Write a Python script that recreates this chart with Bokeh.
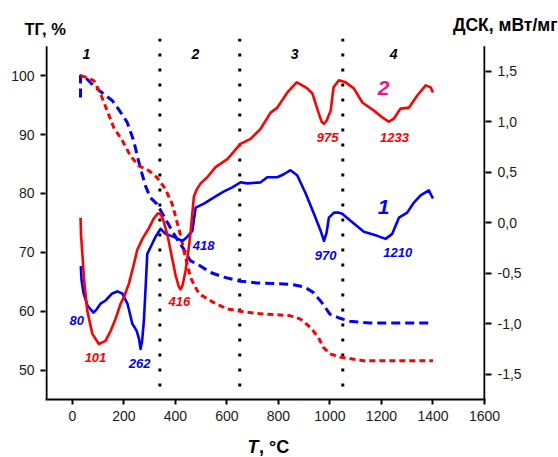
from bokeh.plotting import figure
from bokeh.models import Range1d, LinearAxis, FixedTicker, Label
from bokeh.layouts import column
from bokeh.core.properties import value
from bokeh.embed import file_html
from bokeh.resources import INLINE

# ---------------- data ----------------
# DSC curve 1 (blue, right axis, mW/mg)
dsc1_t = [33, 36, 44, 59, 82, 94, 110, 129, 155, 175, 194, 214, 233, 250, 259, 265, 271, 278, 285, 291,
          304, 323, 343, 362, 394, 427, 446, 466, 479, 511, 550, 589, 621, 653, 679, 731, 757, 796, 821,
          847, 873, 906, 938, 964, 977, 987, 996, 1016, 1035, 1048, 1080, 1132, 1158, 1184, 1216, 1242,
          1268, 1300, 1326, 1352, 1384, 1400]
dsc1_v = [-0.43, -0.57, -0.70, -0.82, -0.89, -0.86, -0.80, -0.77, -0.70, -0.68, -0.70, -0.80, -1.00, -1.07,
          -1.15, -1.25, -1.17, -0.97, -0.62, -0.31, -0.24, -0.14, -0.06, -0.11, -0.14, -0.18, -0.14, -0.08,
          0.15, 0.19, 0.25, 0.31, 0.35, 0.40, 0.39, 0.40, 0.45, 0.45, 0.48, 0.52, 0.47, 0.29, 0.09, -0.08,
          -0.18, -0.10, 0.05, 0.10, 0.10, 0.09, 0.02, -0.09, -0.11, -0.13, -0.16, -0.11, 0.05, 0.10, 0.20,
          0.27, 0.32, 0.24]

# DSC curve 2 (red, right axis, mW/mg)
dsc2_t = [32, 34, 39, 45, 58, 78, 103, 129, 149, 168, 188, 203, 220, 239, 252, 272, 296, 316, 331, 343,
          354, 370, 385, 401, 413, 420, 428, 440, 451, 459, 472, 483, 498, 524, 556, 602, 653, 692, 731,
          770, 796, 835, 871, 886, 912, 932, 957, 968, 977, 987, 1003, 1014, 1035, 1061, 1093, 1126, 1171,
          1205, 1229, 1248, 1274, 1307, 1339, 1372, 1391, 1400]
dsc2_v = [0.05, -0.13, -0.30, -0.54, -0.87, -1.10, -1.20, -1.17, -1.07, -0.95, -0.80, -0.72, -0.60, -0.41,
          -0.27, -0.16, -0.06, 0.04, 0.09, 0.09, 0.02, -0.13, -0.32, -0.52, -0.63, -0.66, -0.62, -0.47,
          -0.27, -0.10, 0.26, 0.33, 0.39, 0.45, 0.55, 0.63, 0.78, 0.83, 0.93, 1.09, 1.14, 1.29, 1.39, 1.37,
          1.33, 1.28, 1.08, 1.00, 0.98, 1.01, 1.11, 1.34, 1.41, 1.39, 1.33, 1.19, 1.11, 1.04, 1.00, 1.03,
          1.13, 1.14, 1.26, 1.36, 1.34, 1.29]

# TG curve 1 (blue dashed, left axis, %)
tg1_t = [32, 32, 58, 90, 122, 155, 180, 213, 238, 254, 267, 284, 303, 329, 361, 387, 406, 432, 458, 497,
         535, 587, 652, 716, 794, 858, 903, 935, 968, 1000, 1039, 1077, 1155, 1400]
tg1_v = [96.3, 100.0, 99.4, 98.0, 96.9, 95.8, 94.3, 92.1, 89.0, 86.1, 83.9, 81.3, 79.3, 78.2, 75.7, 73.7,
         72.3, 70.6, 68.6, 67.7, 66.6, 65.8, 65.1, 64.8, 64.7, 64.5, 64.1, 63.2, 61.5, 59.5, 58.8, 58.3,
         58.0, 58.0]

# TG curve 2 (red dashed, left axis, %)
tg2_t = [33, 58, 84, 110, 135, 161, 194, 226, 258, 297, 329, 361, 388, 405, 420, 433, 459, 485, 498, 548,
         600, 652, 716, 794, 845, 884, 923, 955, 974, 1000, 1039, 1129, 1400]
tg2_v = [100.0, 99.7, 99.15, 96.9, 94.1, 91.2, 89.0, 86.4, 84.7, 83.9, 82.7, 80.8, 78.2, 75.4, 72.9, 70.3,
         65.7, 63.5, 62.8, 61.5, 60.4, 60.0, 59.6, 59.4, 59.25, 58.7, 57.3, 55.6, 53.9, 52.75, 52.2, 51.6,
         51.6]

# stage boundaries (°C) and stage names
boundaries = [340, 650, 1050]
stage_names = ["1", "2", "3", "4"]
stage_t = [55, 478, 863, 1247]

# peak labels
peaks_blue = ["80", "262", "418", "970", "1210"]
peaks_blue_t = [17, 261, 510, 983, 1263]
peaks_blue_y = [58.42, 51.12, 71.16, 69.46, 69.97]
peaks_red = ["101", "416", "975", "1233"]
peaks_red_t = [90, 416, 991, 1251]
peaks_red_y = [52.14, 61.65, 89.51, 89.51]

x_ticks = [0, 200, 400, 600, 800, 1000, 1200, 1400, 1600]
tg_ticks = [50, 60, 70, 80, 90, 100]
dsc_ticks = [-1.5, -1.0, -0.5, 0.0, 0.5, 1.0, 1.5]
dsc_tick_labels = ["-1,5", "-1,0", "-0,5", "0,0", "0,5", "1,0", "1,5"]

title_left = "ТГ, %"
title_right = "ДСК, мВт/мг"
x_title_var = "T"
x_title_unit = ", °C"

# ---------------- styling ----------------
FONT = "Liberation Sans"
RED = "#ff0000"
BLUE = "#0000ff"
PINK = "#f0168a"
W = 558


def strip(h):
    f = figure(width=W, height=h, x_range=Range1d(0, W), y_range=Range1d(0, h),
               x_axis_type=None, y_axis_type=None, toolbar_location=None, title=None,
               output_backend="svg", min_border_left=0, min_border_right=0,
               min_border_top=0, min_border_bottom=0, frame_align=False)
    f.outline_line_color = None
    return f


# top strip with the two axis titles (y measured upward from the strip bottom)
top = strip(38)
top.text(x=[24], y=[10], text=[title_left], text_font=value(FONT), text_font_size="16.5px",
         text_font_style="bold", text_align="left", text_baseline="middle", text_color="black")
top.text(x=[557], y=[14], text=[title_right], text_font=value(FONT), text_font_size="17.5px",
         text_font_style="bold", text_align="right", text_baseline="middle", text_color="black")

# main plot
p = figure(frame_width=440, frame_height=361, title=None,
           x_range=Range1d(-104, 1604), y_range=Range1d(45, 106.33),
           output_backend="svg", toolbar_location=None, frame_align=False,
           min_border_left=45, min_border_right=73, min_border_top=0, min_border_bottom=30)
p.extra_y_ranges = {"dsc": Range1d(-1.75, 1.824)}
p.outline_line_color = None
p.xgrid.visible = False
p.ygrid.visible = False

right_axis = LinearAxis(y_range_name="dsc")
p.add_layout(right_axis, "right")

p.xaxis.ticker = FixedTicker(ticks=x_ticks)
p.yaxis[0].ticker = FixedTicker(ticks=tg_ticks)
right_axis.ticker = FixedTicker(ticks=dsc_ticks)
right_axis.major_label_overrides = {t: s for t, s in zip(dsc_ticks, dsc_tick_labels)}

for ax in [p.xaxis[0], p.yaxis[0], right_axis]:
    ax.major_label_text_font = FONT
    ax.major_label_text_font_size = "14px"
    ax.major_label_text_color = "#1a1a1a"
    ax.major_tick_in = 0
    ax.major_tick_out = 5
    ax.major_tick_line_width = 2
    ax.major_tick_line_color = "black"
    ax.minor_tick_line_color = None
    ax.major_label_standoff = 6
    ax.axis_line_width = 2
    ax.axis_line_color = "black"
right_axis.major_tick_out = 6
p.yaxis[0].axis_line_color = None
right_axis.axis_line_color = None

# vertical axis lines spanning 45..105 only
p.segment(x0=[-100, 1600], y0=[45, 45], x1=[-100, 1600], y1=[105, 105],
          line_color="black", line_width=2)

# stage boundary dotted lines
p.multi_line(xs=[[b, b] for b in boundaries], ys=[[106.33, 46.5] for _ in boundaries],
             line_color="black", line_width=3, line_dash="3 12")

# TG curves (dashed)
p.line(tg1_t, tg1_v, line_color=BLUE, line_width=3, line_dash="9 5", line_join="round")
p.line(tg2_t, tg2_v, line_color=RED, line_width=3, line_dash="6 4", line_join="round")

# DSC curves (solid)
p.line(dsc1_t, dsc1_v, y_range_name="dsc", line_color=BLUE, line_width=2.6, line_join="round")
p.line(dsc2_t, dsc2_v, y_range_name="dsc", line_color=RED, line_width=2.6, line_join="round")


def lab(x, y, text, color="black", size="13px", style="bold italic", align="center", baseline="middle"):
    p.add_layout(Label(x=x, y=y, text=text, text_color=color, text_font=FONT,
                       text_font_size=size, text_font_style=style,
                       text_align=align, text_baseline=baseline))


for name, t in zip(stage_names, stage_t):
    lab(t, 103.78, name, size="14px")

for s, t, y in zip(peaks_blue, peaks_blue_t, peaks_blue_y):
    lab(t, y, s, color=BLUE, size="13px")
for s, t, y in zip(peaks_red, peaks_red_t, peaks_red_y):
    lab(t, y, s, color=RED, size="13px")

lab(1208, 97.84, "2", color=PINK, size="21px")
lab(1208, 77.62, "1", color=BLUE, size="21px")

# bottom strip with the x-axis title (y measured upward from the strip bottom)
bottom = strip(28)
bottom.text(x=[258], y=[11], text=[x_title_var], text_font=value(FONT), text_font_size="18px",
            text_font_style="bold italic", text_align="right", text_baseline="middle",
            text_color="black")
bottom.text(x=[258.5], y=[11], text=[x_title_unit], text_font=value(FONT), text_font_size="18px",
            text_font_style="bold", text_align="left", text_baseline="middle", text_color="black")

layout = column(top, p, bottom, spacing=0)
open("out.html", "w").write(file_html(layout, INLINE))
